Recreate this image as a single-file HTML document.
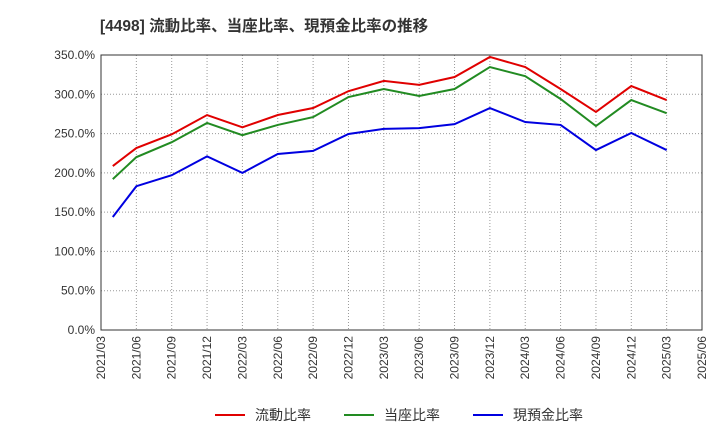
<!DOCTYPE html>
<html><head><meta charset="utf-8"><style>
body{margin:0;background:#fff;font-family:"Liberation Sans","Noto Sans CJK JP",sans-serif}
svg text{font-family:"Liberation Sans","Noto Sans CJK JP",sans-serif}
</style></head><body>
<svg id="c" width="720" height="440" xmlns="http://www.w3.org/2000/svg">
<text x="100" y="31" font-size="15.5" font-weight="bold" fill="#333">[4498]  流動比率、当座比率、現預金比率の推移</text>
<g id="grid"></g><g id="axes"></g><g id="series"></g><g id="legend"></g>
</svg>
<script>
const tickLabels=["2021/03","2021/06","2021/09","2021/12","2022/03","2022/06","2022/09","2022/12","2023/03","2023/06","2023/09","2023/12","2024/03","2024/06","2024/09","2024/12","2025/03","2025/06"];
const yTicks=[0,50,100,150,200,250,300,350];
const pointMonths=[1,3,6,9,12,15,18,21,24,27,30,33,36,39,42,45,48];
const current=[208.7,231.6,249,273.6,258,273.6,282.5,304,317,312,322,347.5,334.7,306.7,277.5,310.5,292.7];
const quick=[192,220,239,263.5,248,261,271,296.5,306.7,297.8,306.7,334.7,323,294,259.6,292.7,276];
const cash=[143.8,183,197,221,200,224,228,249.5,256,257,262,282.5,264.7,261,229,250.7,229];
const NS="http://www.w3.org/2000/svg";
const L=101,R=702,T=55,B=330;
const xs=m=>L+(R-L)*m/51;
const ys=v=>B-(B-T)*v/350;
function mk(tag,attrs,parent){const e=document.createElementNS(NS,tag);for(const k in attrs)e.setAttribute(k,attrs[k]);parent.appendChild(e);return e;}
const grid=document.getElementById('grid'),axes=document.getElementById('axes'),series=document.getElementById('series'),legend=document.getElementById('legend');
yTicks.forEach(v=>{
 const y=ys(v);
 const g=mk('line',{x1:L,x2:R,y1:y,y2:y,stroke:'#999','stroke-dasharray':'1,2','stroke-width':1},grid);
 
 
 const t=mk('text',{x:L-6,y:y+4,'text-anchor':'end','font-size':12,fill:'#333'},axes);
 t.textContent=v.toFixed(1)+'%';
 
 
});
tickLabels.forEach((s,i)=>{
 const x=xs(i*3);
 const g=mk('line',{x1:x,x2:x,y1:T,y2:B,stroke:'#999','stroke-dasharray':'1,2','stroke-width':1},grid);
 
 
 const t=mk('text',{transform:`translate(${x+4},${B+6}) rotate(-90)`,'text-anchor':'end','font-size':12,fill:'#333'},axes);
 t.textContent=s;
 
 
});
const frame=mk('rect',{x:L,y:T,width:R-L,height:B-T,fill:'none',stroke:'#333','stroke-width':1},axes);


const defs=[["流動比率",current,"#e00000","current-ratio-line"],["当座比率",quick,"#228b22","quick-ratio-line"],["現預金比率",cash,"#0000e0","cash-ratio-line"]];
defs.forEach(([name,vals,col,dn],k)=>{
 const p=mk('polyline',{points:vals.map((v,i)=>xs(pointMonths[i])+','+ys(v)).join(' '),fill:'none',stroke:col,'stroke-width':2},series);
 
 
 const lx=[215,344,473][k];
 const g=mk('g',{},legend);
 
 
 mk('line',{x1:lx,x2:lx+30,y1:415,y2:415,stroke:col,'stroke-width':2},g);
 const t=mk('text',{x:lx+40,y:420,'font-size':14,fill:'#333'},g);
 t.textContent=name;
});
</script>
</body></html>
